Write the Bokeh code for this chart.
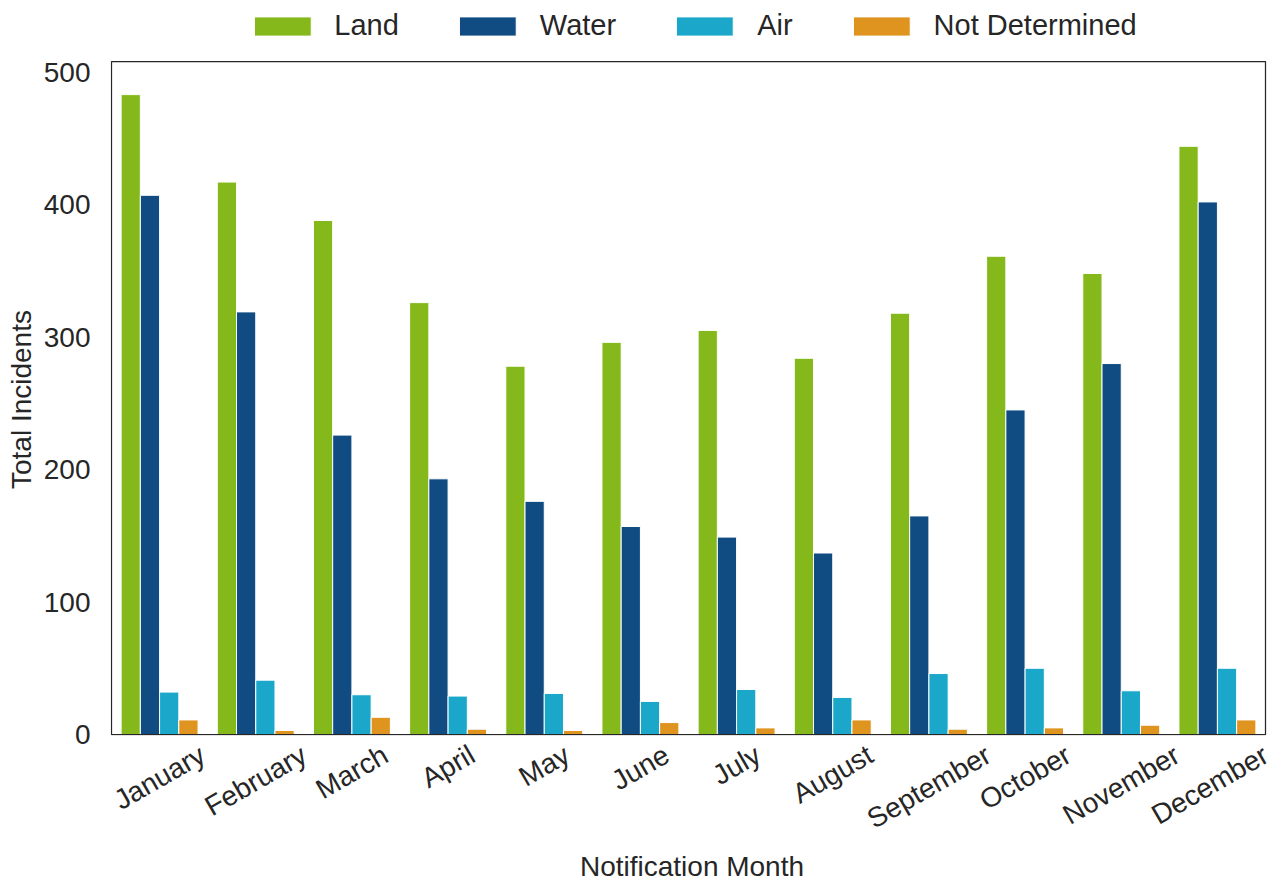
import math
from bokeh.plotting import figure
from bokeh.models import (ColumnDataSource, Range1d, FixedTicker, Legend,
                          LegendItem, BoxAnnotation, Title)
from bokeh.transform import dodge
from bokeh.embed import file_html
from bokeh.resources import INLINE

# ---------------- data ----------------
months = ["January", "February", "March", "April", "May", "June", "July",
          "August", "September", "October", "November", "December"]
land = [483, 417, 388, 326, 278, 296, 305, 284, 318, 361, 348, 444]
water = [407, 319, 226, 193, 176, 157, 149, 137, 165, 245, 280, 402]
air = [32, 41, 30, 29, 31, 25, 34, 28, 46, 50, 33, 50]
not_determined = [11, 3, 13, 4, 3, 9, 5, 11, 4, 5, 7, 11]
series_names = ["Land", "Water", "Air", "Not Determined"]
y_ticks = [0, 100, 200, 300, 400, 500]
y_top = 508          # top of the plotted axes box (data units)

# ---------------- style / geometry (pixels) ----------------
FONT = "Liberation Sans"
TXT = "#262626"
colors = ["#85B81A", "#104C82", "#1AA7C9", "#DE941F"]
TICK_FS = 28
LABEL_FS = 28
LEGEND_FS = 29
CANVAS_W, CANVAS_H = 1273, 888
BOX_L, BOX_R, BOX_T, BOX_B = 111, 1265, 61, 734   # visible axes box
FRAME_L, FRAME_B = BOX_L - 1, BOX_B + 1

n = len(months)
centers = [i + 0.5 for i in range(n)]   # slot centre of each month category
src = ColumnDataSource(dict(month=months, xc=centers, land=land, water=water,
                            air=air, nd=not_determined))

ppx = (BOX_R - BOX_L) / n
ppy = (BOX_B - BOX_T) / y_top
x_range = Range1d(-(BOX_L - FRAME_L) / ppx, n + (CANVAS_W - BOX_R) / ppx)
y_range = Range1d(-(FRAME_B - BOX_B) / ppy, y_top + BOX_T / ppy)

p = figure(x_range=x_range, y_range=y_range, title=None,
           width=CANVAS_W, height=CANVAS_H,
           output_backend="svg", toolbar_location=None,
           min_border_left=FRAME_L, min_border_right=0, min_border_top=0,
           min_border_bottom=CANVAS_H - FRAME_B)

fields = ["land", "water", "air", "nd"]
offsets = [-0.3, -0.1, 0.1, 0.3]
renderers = []
for f, off, c in zip(fields, offsets, colors):
    r = p.vbar(x=dodge("xc", off), top=f, width=0.2,
               source=src, fill_color=c, line_color="white", line_width=1)
    renderers.append(r)

# axes box outline
p.outline_line_color = None
p.add_layout(BoxAnnotation(left=0, right=n, bottom=0, top=y_top,
                           fill_alpha=0, line_color=TXT, line_alpha=1,
                           line_width=1.25))

legend = Legend(items=[LegendItem(label=nm, renderers=[r])
                       for nm, r in zip(series_names, renderers)],
                orientation="horizontal", location="top_center",
                glyph_width=71, glyph_height=24, label_standoff=17, spacing=53,
                label_text_font_size=f"{LEGEND_FS}px", label_text_font=FONT,
                label_text_color=TXT, border_line_color=None,
                background_fill_alpha=0, padding=0, margin=9)
p.add_layout(legend, "center")

p.xgrid.visible = False
p.ygrid.visible = False

# widths of Liberation Sans / Arial glyphs (per 1000 em) for text centring
CW = {"a": 556, "b": 556, "c": 500, "d": 556, "e": 556, "g": 556, "h": 556,
      "i": 222, "l": 222, "m": 833, "n": 556, "o": 556, "p": 556, "r": 333,
      "s": 500, "t": 278, "u": 556, "v": 500, "y": 500, "J": 500, "F": 611,
      "M": 833, "A": 667, "S": 667, "O": 778, "N": 722, "D": 722, "T": 611,
      "I": 278, " ": 278}


def text_w(s, fs):
    return sum(CW.get(ch, 556) for ch in s) / 1000 * fs


ya = p.yaxis[0]
ya.ticker = FixedTicker(ticks=y_ticks)
ya.major_tick_line_color = None
ya.minor_tick_line_color = None
ya.axis_line_color = None
ya.major_label_text_font = FONT
ya.major_label_text_font_size = f"{TICK_FS}px"
ya.major_label_text_color = TXT
ya.major_label_standoff = BOX_L - 97

y_title = "Total Incidents"
title_start = (BOX_T + BOX_B) / 2 + text_w(y_title, LABEL_FS) / 2
p.add_layout(Title(text=y_title, align="left", offset=FRAME_B - title_start,
                   text_font=FONT, text_font_size=f"{LABEL_FS}px",
                   text_font_style="normal", text_color=TXT, standoff=7),
             "left")

# month labels: rotated 30 deg and centred under each group (matplotlib-like)
ang = math.radians(30)
tick_pos = []
overrides = {}
for c, m in zip(centers, months):
    shift = (text_w(m, TICK_FS) * math.cos(ang) / 2) / ppx
    pos = round(min(c + shift, x_range.end), 4)
    tick_pos.append(pos)
    overrides[pos] = m

xa = p.xaxis[0]
xa.ticker = FixedTicker(ticks=tick_pos)
xa.major_label_overrides = overrides
xa.major_label_orientation = ang
xa.major_tick_line_color = None
xa.minor_tick_line_color = None
xa.axis_line_color = None
xa.major_label_text_font = FONT
xa.major_label_text_font_size = f"{TICK_FS}px"
xa.major_label_text_color = TXT
xa.major_label_standoff = 11
xa.axis_label = "Notification Month"
xa.axis_label_text_font = FONT
xa.axis_label_text_font_size = f"{LABEL_FS}px"
xa.axis_label_text_font_style = "normal"
xa.axis_label_text_color = TXT
xa.axis_label_standoff = 0

open("out.html", "w").write(file_html(p, INLINE))
